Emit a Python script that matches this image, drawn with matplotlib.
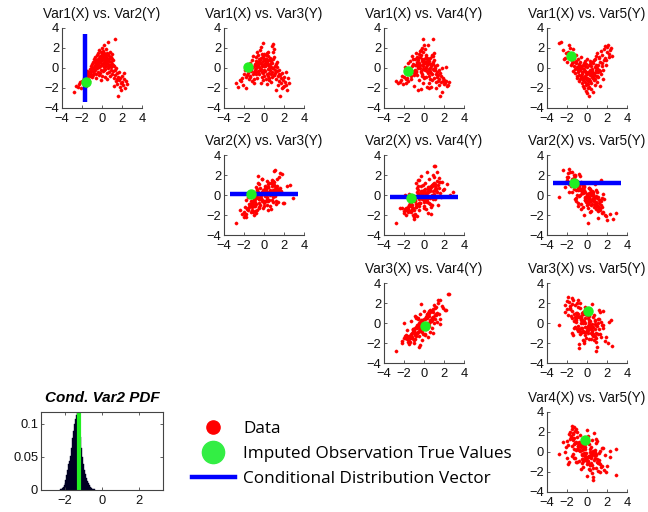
import matplotlib
matplotlib.use("Agg")
import matplotlib.pyplot as plt
from matplotlib.lines import Line2D
import numpy as np

# ---------------- data ----------------
var1 = [-2.8,-2.4,-2.2,-2.1,-2.0,-2.3,
        -1.9,-1.8,-1.7,-1.6,-1.6,-1.5,-1.5,-1.4,-1.4,-1.3,-1.3,-1.2,-1.2,-1.1,-1.1,-1.0,-1.0,-1.0,
        -0.9,-0.9,-0.8,-0.8,-0.8,-0.7,-0.7,-0.7,-0.6,-0.6,-0.6,-0.5,-0.5,-0.5,-0.4,-0.4,-0.4,-0.3,-0.3,-0.3,
        -0.2,-0.2,-0.2,-0.1,-0.1,-0.1,-0.1,0.0,0.0,0.0,0.0,-0.6,-0.3,-0.9,
        0.1,0.1,0.1,0.2,0.2,0.2,0.3,0.3,0.3,0.4,0.4,0.4,0.5,0.5,0.5,0.6,0.6,0.6,0.7,0.7,0.7,0.8,0.8,0.8,
        0.9,0.9,0.9,1.0,1.0,1.0,0.3,0.5,0.0,0.2,0.8,
        1.1,1.1,1.2,1.2,1.3,1.3,1.4,1.4,1.5,1.5,1.6,1.6,1.7,1.7,1.8,1.8,1.9,2.0,2.0,1.2,
        2.1,2.2,2.3,2.5,2.4,2.2,
        -0.5,-0.2,0.1,0.4,-0.7,0.6,-0.3,0.2,0.9,-0.1,0.3,-0.4,0.7,1.1,-0.8,0.0,0.5,-0.6,1.3,-1.1,
        0.2,-0.2,0.6,1.5,-1.4,0.4,-0.9,1.0,-1.8,1.9,-0.1,
        -2.6,0.9]
var2 = [-2.4,-1.9,-1.4,-2.0,-1.3,-1.6,
        -1.5,-1.0,-1.2,-0.6,-1.8,-0.9,-0.3,-1.1,-0.7,-0.4,-1.3,-0.1,-0.8,0.2,-0.6,0.0,-0.9,0.4,
        0.6,-0.3,0.1,-0.5,0.9,0.3,-0.2,1.1,0.5,-0.6,0.8,1.3,0.0,0.7,1.5,0.4,-0.4,1.0,0.6,1.8,
        0.2,1.2,0.9,1.6,0.5,-0.2,1.1,0.8,2.0,0.3,1.4,-1.0,-0.7,0.0,
        1.7,0.4,-0.3,1.0,2.3,0.6,1.3,-0.1,0.8,1.9,0.2,1.1,0.5,1.5,-0.5,2.6,0.9,0.0,1.2,-0.4,0.7,0.3,1.6,-0.8,
        0.1,-0.2,0.6,1.4,-0.6,0.4,-0.9,-1.1,-0.8,0.1,1.0,
        -0.3,0.8,-1.0,0.2,2.9,-0.7,-1.3,0.0,-0.5,-1.6,-0.9,-2.8,-1.2,-0.4,-1.9,-1.0,-1.5,-1.4,-0.8,-1.8,
        -1.7,-1.1,-2.0,-1.6,-1.3,-0.5,
        0.2,0.7,1.2,0.7,0.6,1.4,0.1,-0.2,1.1,0.9,0.4,0.9,0.2,0.3,-0.2,1.1,0.9,0.1,-0.2,-0.3,
        1.5,-0.5,0.4,-1.1,-0.5,1.3,-0.7,0.9,-1.5,-2.2,-1.2,
        -1.8,1.0]
var3 = [-1.5,-1.2,-1.0,-1.7,-0.6,-1.3,
        -0.2,-2.0,-0.7,0.3,-0.5,-1.1,0.0,-0.9,0.5,-0.3,-0.1,-1.3,0.8,-0.6,1.2,-1.1,-0.4,-1.5,
        0.4,-0.4,0.7,1.1,0.0,-1.0,1.6,0.6,0.3,-0.3,1.3,0.9,-0.6,0.1,1.8,0.8,-0.2,1.0,0.5,2.1,
        0.2,-0.9,1.4,0.7,1.2,-0.5,2.5,0.9,-0.8,1.4,0.2,-0.4,-1.5,0.3,
        0.4,0.2,-0.3,1.3,0.9,-1.1,0.6,0.5,1.5,-0.8,0.8,-0.1,-0.5,0.3,-1.2,1.0,-0.2,0.1,-0.6,0.7,-1.4,-0.4,2.2,-0.9,
        0.0,1.6,0.0,-0.7,1.9,1.1,-1.6,-1.0,-0.2,0.9,0.5,
        0.2,-0.5,-1.1,0.4,-0.3,0.6,-1.7,-0.8,-1.3,-0.2,-0.7,-2.8,-1.5,-1.0,-2.0,-0.5,-1.2,-0.9,-1.8,-2.2,
        -1.4,-1.7,-2.2,-1.5,-1.0,-0.4,
        0.6,0.3,0.8,1.2,0.2,0.4,-0.1,0.3,0.9,1.1,-0.6,0.5,0.1,-0.2,-0.6,0.4,0.2,0.5,0.1,0.1,
        0.6,-0.4,0.8,-0.6,-0.8,1.6,-0.2,-0.7,-0.9,-1.9,-1.2,
        -1.9,2.4]
var4 = [-1.3,-1.4,-0.8,-1.6,-0.9,-1.2,
        0.1,-1.5,-1.0,0.5,-1.3,-0.6,-0.2,-0.5,0.7,-0.8,-1.1,0.2,1.2,-0.4,0.9,-0.7,-0.3,-1.8,
        -0.2,0.9,0.3,1.5,-0.4,-0.7,0.4,1.1,0.8,0.1,1.0,1.4,0.5,-1.2,1.7,0.3,0.0,1.8,-0.3,1.3,
        -0.6,0.7,2.0,0.2,1.6,-0.1,2.9,-1.0,0.6,2.3,-0.1,-2.2,-2.1,-0.5,
        -0.2,0.6,1.9,0.1,1.1,-0.9,0.3,1.0,0.9,0.5,-0.5,-0.4,-0.8,0.7,-1.5,0.0,-0.3,-1.1,0.4,0.2,-1.9,-0.6,1.3,-1.2,
        1.2,-0.1,0.4,-1.0,1.5,0.8,-1.9,-2.0,-0.9,0.6,1.2,
        -0.2,0.0,-0.6,-1.4,0.3,-0.9,-0.7,-1.3,-1.1,-1.7,-0.5,-2.8,-1.4,-0.8,0.0,-2.4,-1.0,-1.6,-1.2,-2.0,
        -1.5,-1.3,-1.8,-1.4,-1.7,0.1,
        0.2,0.9,0.5,0.8,0.6,1.0,-0.4,0.0,0.6,0.4,-0.3,1.1,-0.5,0.2,-0.3,0.9,-0.1,0.0,-0.4,0.4,
        1.3,-0.8,0.4,-0.2,-0.4,2.3,0.3,-0.2,-1.1,-1.3,-1.5,
        -1.5,2.9]
var5 = [2.5,1.8,1.0,1.5,0.6,0.9,
        1.6,1.4,2.0,1.2,0.3,0.5,0.8,-0.3,1.9,0.2,1.0,-0.5,-0.1,0.7,1.3,0.1,-0.8,-1.0,
        -0.4,0.9,-1.3,0.4,-0.7,0.6,-0.2,-1.1,0.2,-0.9,1.1,-1.5,0.0,-0.6,-1.8,0.3,-1.2,-0.3,-0.1,-2.0,
        0.7,-0.8,-1.4,-1.7,0.4,-0.5,-2.3,-1.0,-2.5,0.1,-0.6,0.0,0.5,-0.2,
        -0.4,-1.6,-2.0,-1.1,-1.9,0.3,-1.3,-0.7,-0.2,-2.1,0.2,-1.5,-0.9,-0.3,0.6,-2.4,0.5,-1.0,-0.5,0.8,-1.2,-1.7,0.1,0.9,
        -0.8,1.2,-0.4,1.5,-1.4,0.0,0.7,-0.6,0.9,-2.8,-1.1,
        0.3,-0.9,1.0,-0.2,-1.8,0.6,1.7,-0.6,0.2,1.3,-1.1,-0.2,1.9,0.8,2.2,1.0,0.3,1.6,2.1,1.1,
        2.3,1.4,1.8,1.2,2.0,1.1,
        -0.4,-0.3,-1.3,-0.6,0.1,-1.0,-0.9,-0.5,-0.2,-1.1,0.4,-1.0,-0.7,-0.4,0.3,-1.6,-0.1,-0.8,-0.3,0.5,
        -1.2,0.2,-0.6,0.5,0.6,-0.5,0.0,-0.8,2.3,0.8,-0.4,
        2.6,0.3]

var_names = ["Var1", "Var2", "Var3", "Var4", "Var5"]
imputed_true = [-1.6, -1.35, 0.1, -0.25, 1.25]   # green point per variable
cond_var = 1                                      # conditional vector is along Var2
cond_fixed = [-1.75, None, 0.12, -0.2, 1.23]      # where the blue vector sits in other vars
cond_span = [-3.4, 3.4]

# conditional Var2 pdf (histogram of bins)
pdf_centers = [-2.25,-2.2,-2.15,-2.1,-2.05,-2.0,-1.95,-1.9,-1.85,-1.8,-1.75,-1.7,-1.65,-1.6,-1.55,
               -1.5,-1.45,-1.4,-1.35,-1.3,-1.25,-1.2,-1.15,-1.1,-1.05,-1.0,-0.95,-0.9,-0.85,-0.8,
               -0.75,-0.7,-0.65,-0.6,-0.55,-0.5,-0.45,-0.4]
pdf_heights = [0.001,0.002,0.003,0.005,0.007,0.010,0.015,0.022,0.030,0.040,0.044,0.052,0.064,0.078,0.090,
               0.100,0.108,0.114,0.120,0.118,0.110,0.096,0.080,0.063,0.050,0.040,0.031,0.024,0.018,0.013,
               0.010,0.007,0.005,0.004,0.003,0.002,0.001,0.001]
pdf_width = 0.05
pdf_true = -1.22

data = [np.array(v) for v in (var1, var2, var3, var4, var5)]

# ---------------- layout ----------------
W, H = 648, 512
fig = plt.figure(figsize=(W / 100, H / 100), dpi=100)
plt.rcParams['font.family'] = ['Liberation Sans', 'DejaVu Sans']

col_left = [62, 224, 384, 547]
row_top = [28, 155, 283, 412]
aw, ah = 80, 80

def px_axes(l, t, w, h):
    return fig.add_axes([l / W, 1 - (t + h) / H, w / W, h / H])

red = '#ff0000'
green = '#22ee22'
blue = '#0000ff'
spine_c = '#444444'
tick_fs = 9.3

for r in range(4):
    for c in range(r, 4):
        xi, yi = r, c + 1
        ax = px_axes(col_left[c], row_top[r], aw, ah)
        ax.plot(data[xi], data[yi], 'o', ms=2.3, mfc=red, mec=red, mew=0.3, ls='none', zorder=2)
        if xi == cond_var:
            ax.plot(cond_span, [cond_fixed[yi]] * 2, color=blue, lw=3.2, solid_capstyle='butt', zorder=3)
        elif yi == cond_var:
            ax.plot([cond_fixed[xi]] * 2, cond_span, color=blue, lw=3.2, solid_capstyle='butt', zorder=3)
        ax.plot([imputed_true[xi]], [imputed_true[yi]], 'o', ms=6.5, mfc=green, mec=green, zorder=4)
        ax.set_xlim(-4, 4)
        ax.set_ylim(-4, 4)
        ax.set_xticks([-4, -2, 0, 2, 4])
        ax.set_yticks([-4, -2, 0, 2, 4])
        for s in ('top', 'right'):
            ax.spines[s].set_visible(False)
        for s in ('left', 'bottom'):
            ax.spines[s].set_color(spine_c)
            ax.spines[s].set_linewidth(0.8)
        ax.tick_params(direction='in', length=2, width=0.6, labelsize=tick_fs, colors=spine_c,
                       labelcolor='#111111')
        ax.tick_params(axis='x', pad=3.5)
        ax.tick_params(axis='y', pad=2)
        ax.set_title(f"{var_names[xi]}(X) vs. {var_names[yi]}(Y)", fontsize=9.8, pad=7.5, color='#111111')

# histogram panel
hx = px_axes(41, 412, 122, 78)
hx.bar(pdf_centers, pdf_heights, width=pdf_width, color='#000022', edgecolor='#000022', lw=0.3)
hx.plot([pdf_true, pdf_true], [0, 0.12], color='#22ee22', lw=3)
hx.set_xlim(-3.3, 3.3)
hx.set_ylim(0, 0.118)
hx.set_xticks([-2, 0, 2])
hx.set_yticks([0, 0.05, 0.1])
hx.set_yticklabels(['0', '0.05', '0.1'])
for s in hx.spines.values():
    s.set_color(spine_c)
    s.set_linewidth(0.8)
hx.tick_params(direction='in', length=2, width=0.6, labelsize=tick_fs, top=True, right=True,
               colors=spine_c, labelcolor='#111111')
hx.tick_params(axis='x', pad=3.5)
hx.tick_params(axis='y', pad=2)
hx.set_title("Cond. Var2 PDF", fontsize=11, fontweight='bold', fontstyle='italic', pad=7)

# legend
handles = [
    Line2D([], [], ls='none', marker='o', ms=9.5, mfc=red, mec=red),
    Line2D([], [], ls='none', marker='o', ms=16, mfc='#33ee44', mec='#33ee44'),
    Line2D([], [], color=blue, lw=3.2),
]
labels = ["Data", "Imputed Observation True Values", "Conditional Distribution Vector"]
fig.legend(handles, labels, loc='upper left', bbox_to_anchor=(192 / W, 1 - 421 / H),
           frameon=False, prop={'family': 'Open Sans', 'size': 12.3}, handlelength=2.5,
           handletextpad=0.5, labelspacing=0.52, borderpad=0, borderaxespad=0)

fig.savefig("out.png", dpi=100)
